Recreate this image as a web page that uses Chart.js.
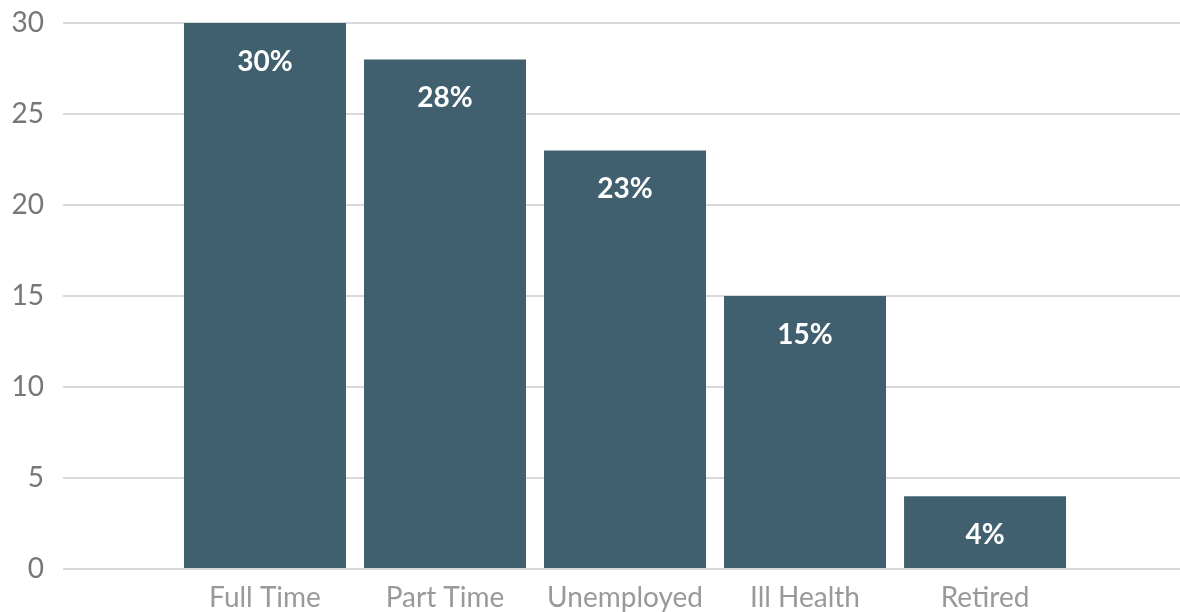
<!DOCTYPE html>
<html>
<head>
<meta charset="utf-8">
<script src="https://cdn.jsdelivr.net/npm/chart.js@4.4.1/dist/chart.umd.min.js"></script>
<style>
  html, body { margin: 0; padding: 0; background: #fff; }
  #wrap { width: 1180px; height: 612px; position: relative; }
</style>
</head>
<body>
<div id="wrap"><canvas id="chart"></canvas></div>
<script>
const categories = ['Full Time', 'Part Time', 'Unemployed', 'Ill Health', 'Retired'];
const shares = [30, 28, 23, 15, 4];
const yTicks = [0, 5, 10, 15, 20, 25, 30];

const barColor = '#41606f';
const fontFamily = 'Lato, "Open Sans", sans-serif';

// white percentage label just under the top of each bar
const barLabels = {
    id: 'barLabels',
    afterDatasetsDraw(chart) {
        const ctx = chart.ctx;
        const meta = chart.getDatasetMeta(0);
        ctx.save();
        ctx.fillStyle = '#ffffff';
        ctx.font = `bold 28px ${fontFamily}`;
        ctx.textAlign = 'center';
        ctx.textBaseline = 'middle';
        meta.data.forEach((bar, i) => {
            ctx.fillText(`${shares[i]}%`, bar.x, bar.y + 39);
        });
        ctx.restore();
    }
};

new Chart(document.getElementById('chart'), {
    type: 'bar',
    data: {
        datasets: [{
            data: shares.map((v, i) => ({ x: i, y: v })),
            backgroundColor: barColor,
            borderWidth: 0,
            categoryPercentage: 1,
            barPercentage: 0.9,
        }]
    },
    options: {
        responsive: true,
        maintainAspectRatio: false,
        animation: false,
        layout: { padding: { top: 23, right: 0, left: 0, bottom: 0 } },
        plugins: {
            legend: { display: false },
            tooltip: { enabled: false },
        },
        scales: {
            x: {
                type: 'linear',
                min: -1.122,
                max: 5.083,
                offset: false,
                afterBuildTicks: (scale) => {
                    scale.ticks = categories.map((c, i) => ({ value: i }));
                },
                afterFit: (scale) => {
                    scale.height = 43;
                    scale.paddingLeft = 0;
                    scale.paddingRight = 0;
                },
                ticks: {
                    callback: (v) => categories[v],
                    color: '#999999',
                    font: { family: fontFamily, size: 28 },
                    padding: 4,
                    maxRotation: 0,
                    autoSkip: false,
                },
                grid: { display: false },
                border: { display: false },
            },
            y: {
                min: 0,
                max: 30,
                afterBuildTicks: (scale) => {
                    scale.ticks = yTicks.map(v => ({ value: v }));
                },
                afterFit: (scale) => {
                    scale.width = 63;
                    scale.paddingTop = 0;
                    scale.paddingBottom = 0;
                },
                ticks: {
                    color: '#777777',
                    font: { family: fontFamily, size: 28 },
                    padding: 19,
                },
                grid: { color: '#d9d9d9', lineWidth: 2, drawTicks: false },
                border: { display: false },
            }
        }
    },
    plugins: [barLabels]
});
</script>
</body>
</html>
